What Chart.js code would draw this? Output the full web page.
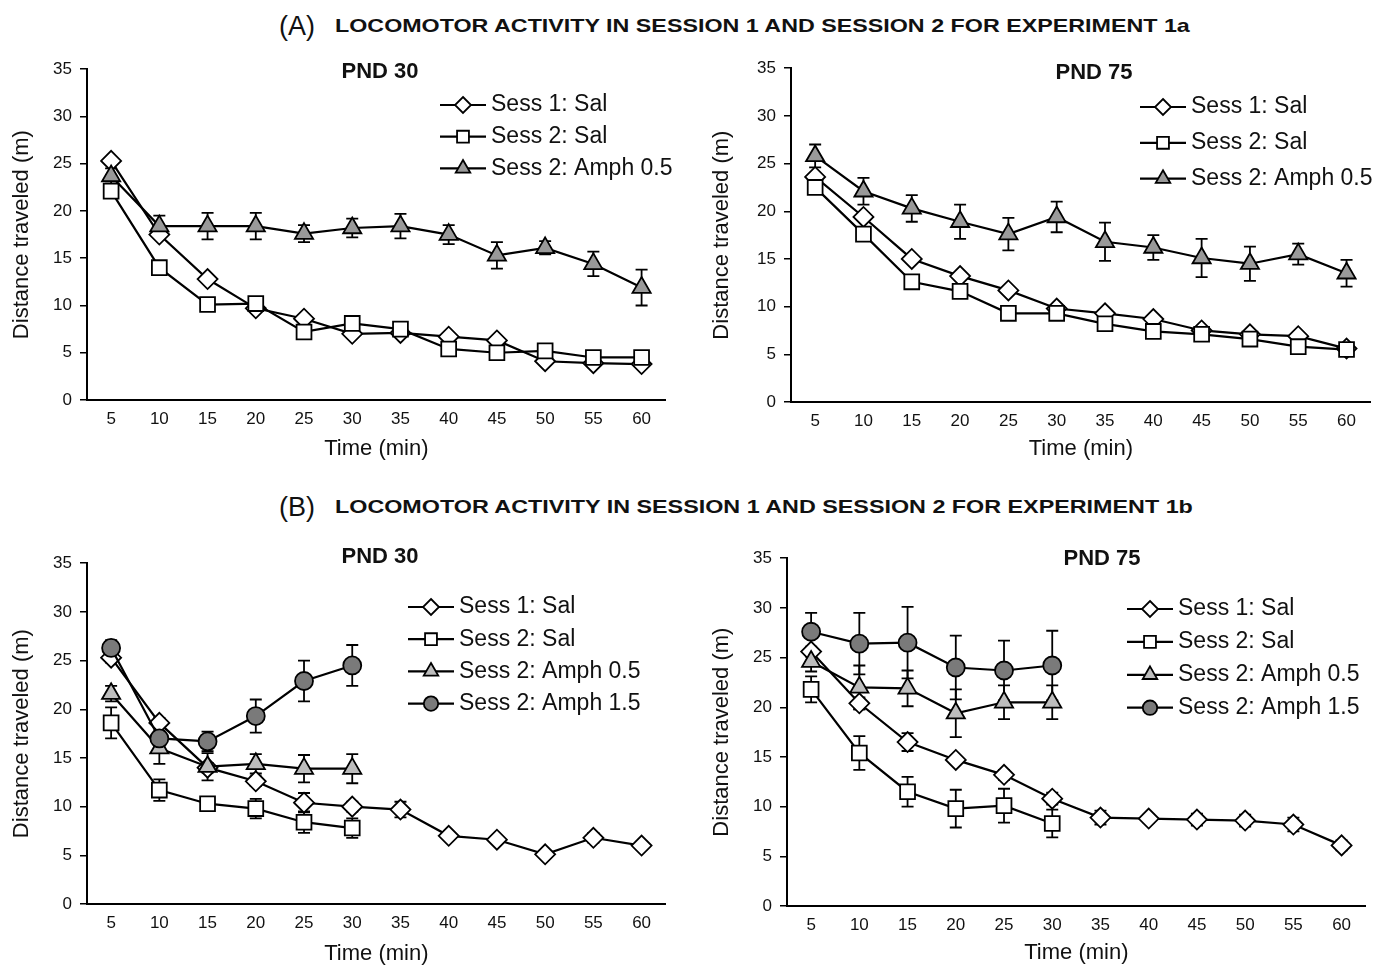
<!DOCTYPE html>
<html>
<head>
<meta charset="utf-8">
<script src="https://cdn.jsdelivr.net/npm/chart.js@4.4.1/dist/chart.umd.min.js"></script>
<style>
body { margin: 0; background: #fff; width: 1384px; height: 968px; position: relative; overflow: hidden; font-family: "Liberation Sans", Arial, sans-serif; color: #111; }
.box { position: absolute; }
.tag { position: absolute; font-size: 27px; line-height: 30px; white-space: nowrap; }
.head { position: absolute; font-size: 19px; font-weight: bold; line-height: 24px; white-space: nowrap; transform-origin: left center; }
.pnd { position: absolute; font-size: 22px; font-weight: bold; white-space: nowrap; transform: translate(-50%, -50%); }
</style>
</head>
<body>

<div class="tag" style="left:279px; top:11px;">(A)</div>
<div class="head" id="headA" style="left:335px; top:14px;">LOCOMOTOR ACTIVITY IN SESSION 1 AND SESSION 2 FOR EXPERIMENT 1a</div>
<div class="tag" style="left:279px; top:492px;">(B)</div>
<div class="head" id="headB" style="left:335px; top:495px;">LOCOMOTOR ACTIVITY IN SESSION 1 AND SESSION 2 FOR EXPERIMENT 1b</div>

<div class="box" id="boxA1"><canvas id="chartA1"></canvas></div>
<div class="box" id="boxA2"><canvas id="chartA2"></canvas></div>
<div class="box" id="boxB1"><canvas id="chartB1"></canvas></div>
<div class="box" id="boxB2"><canvas id="chartB2"></canvas></div>

<div class="pnd" style="left:380px; top:71px;">PND 30</div>
<div class="pnd" style="left:1094px; top:72px;">PND 75</div>
<div class="pnd" style="left:380px; top:556px;">PND 30</div>
<div class="pnd" style="left:1102px; top:558px;">PND 75</div>

<script>
// x categories (min)
const times = [5, 10, 15, 20, 25, 30, 35, 40, 45, 50, 55, 60]
const seriesNames = ["Sess 1: Sal", "Sess 2: Sal", "Sess 2: Amph 0.5", "Sess 2: Amph 1.5"]

// Experiment 1a, PND 30
const a30Sal1 = [25.3, 17.5, 12.8, 9.7, 8.6, 7.0, 7.1, 6.7, 6.3, 4.1, 3.9, 3.8]
const a30Sal2 = [22.1, 14.0, 10.1, 10.2, 7.2, 8.1, 7.5, 5.4, 5.0, 5.2, 4.5, 4.5]
const a30Amph = [23.7, 18.4, 18.4, 18.4, 17.6, 18.2, 18.4, 17.5, 15.3, 16.1, 14.4, 11.9]
const a30AmphErr = [0.8, 1.1, 1.4, 1.4, 0.9, 1.0, 1.3, 1.0, 1.4, 0.7, 1.3, 1.9]

// Experiment 1a, PND 75
const a75Sal1 = [23.6, 19.4, 15.0, 13.2, 11.7, 9.8, 9.3, 8.7, 7.5, 7.1, 6.9, 5.6]
const a75Sal2 = [22.5, 17.6, 12.6, 11.6, 9.3, 9.3, 8.2, 7.4, 7.1, 6.6, 5.8, 5.5]
const a75Amph = [25.8, 22.1, 20.3, 18.9, 17.6, 19.4, 16.8, 16.2, 15.1, 14.5, 15.5, 13.5]
const a75AmphErr = [1.2, 1.4, 1.4, 1.8, 1.7, 1.6, 2.0, 1.3, 2.0, 1.8, 1.1, 1.4]

// Experiment 1b, PND 30
const b30Sal1 = [25.3, 18.6, 14.0, 12.6, 10.4, 10.0, 9.7, 7.0, 6.6, 5.1, 6.8, 6.0]
const b30Sal1Err = [0.5, 0.5, 0.5, 0.5, 1.0, 0.5, 0.8, 0.3, 0.4, 0.3, 0.5, 0.4]
const b30Sal2 = [18.6, 11.7, 10.3, 9.8, 8.4, 7.8]
const b30Sal2Err = [1.6, 1.1, 0.5, 1.0, 1.1, 1.0]
const b30Amph05 = [21.6, 16.0, 14.1, 14.4, 13.9, 13.9]
const b30Amph05Err = [0.8, 1.6, 1.4, 1.0, 1.4, 1.5]
const b30Amph15 = [26.3, 17.0, 16.7, 19.3, 22.9, 24.5]
const b30Amph15Err = [0.8, 0.8, 1.0, 1.7, 2.1, 2.1]

// Experiment 1b, PND 75
const b75Sal1 = [25.6, 20.4, 16.5, 14.7, 13.2, 10.8, 8.9, 8.8, 8.7, 8.6, 8.2, 6.1]
const b75Sal1Err = [0.5, 0.6, 0.9, 0.4, 0.5, 0.6, 0.7, 0.4, 0.6, 0.6, 0.7, 0.5]
const b75Sal2 = [21.8, 15.4, 11.5, 9.8, 10.1, 8.3]
const b75Sal2Err = [1.3, 1.7, 1.5, 1.9, 1.7, 1.4]
const b75Amph05 = [24.6, 22.0, 21.9, 19.4, 20.5, 20.5]
const b75Amph05Err = [1.0, 2.2, 1.8, 2.4, 1.7, 1.7]
const b75Amph15 = [27.6, 26.4, 26.5, 24.0, 23.7, 24.2]
const b75Amph15Err = [1.9, 3.1, 3.6, 3.2, 3.0, 3.5]

const FONT = '"Liberation Sans", Arial, Helvetica, sans-serif'

// marker looks per group
const looks = {
    sal1: { pointStyle: 'rectRot', radius: 10, fill: '#ffffff', order: 3 },
    sal2: { pointStyle: 'rect', radius: 10.5, fill: '#ffffff', order: 2 },
    amphA: { pointStyle: 'triangle', radius: 10.5, fill: '#999999', order: 1 },
    amph05: { pointStyle: 'triangle', radius: 10.5, fill: '#bdbdbd', order: 1 },
    amph15: { pointStyle: 'circle', radius: 9, fill: '#7a7a7a', order: 0 }
}

function makeSet (name, data, errs, look) {
    return {
        label: name,
        data: data,
        errors: errs,
        borderColor: '#000',
        borderWidth: 2.2,
        pointStyle: look.pointStyle,
        pointRadius: look.radius,
        pointHoverRadius: look.radius,
        pointBackgroundColor: look.fill,
        pointBorderColor: '#000',
        pointBorderWidth: 1.8,
        fill: false,
        tension: 0,
        order: look.order
    }
}

// mean +/- error bars, drawn under the markers
const errorBars = {
    id: 'errorBars',
    beforeDatasetsDraw (chart) {
        const ctx = chart.ctx
        const yScale = chart.scales.y
        ctx.save()
        ctx.strokeStyle = '#000'
        ctx.lineWidth = 1.8
        chart.data.datasets.forEach((ds, i) => {
            if (!ds.errors) return
            const meta = chart.getDatasetMeta(i)
            ds.errors.forEach((e, j) => {
                if (!e) return
                const pt = meta.data[j]
                const top = yScale.getPixelForValue(ds.data[j] + e)
                const bot = yScale.getPixelForValue(ds.data[j] - e)
                ctx.beginPath()
                ctx.moveTo(pt.x, top); ctx.lineTo(pt.x, bot)
                ctx.moveTo(pt.x - 6, top); ctx.lineTo(pt.x + 6, top)
                ctx.moveTo(pt.x - 6, bot); ctx.lineTo(pt.x + 6, bot)
                ctx.stroke()
            })
        })
        ctx.restore()
    }
}

function drawMarker (ctx, style, r, x, y) {
    ctx.beginPath()
    if (style == 'circle') {
        ctx.arc(x, y, r, 0, Math.PI * 2)
    } else if (style == 'rect') {
        const s = Math.SQRT1_2 * r
        ctx.rect(x - s, y - s, 2 * s, 2 * s)
    } else if (style == 'rectRot') {
        ctx.moveTo(x, y - r); ctx.lineTo(x + r, y); ctx.lineTo(x, y + r); ctx.lineTo(x - r, y)
    } else {
        ctx.moveTo(x, y - r)
        ctx.lineTo(x + Math.sin(2 * Math.PI / 3) * r, y + r / 2)
        ctx.lineTo(x - Math.sin(2 * Math.PI / 3) * r, y + r / 2)
    }
    ctx.closePath()
    ctx.fill()
    ctx.stroke()
}

// legend sitting inside the plot, line + marker + text
const insideLegend = {
    id: 'insideLegend',
    afterDraw (chart, args, opts) {
        const ctx = chart.ctx
        ctx.save()
        ctx.font = '23px ' + FONT
        ctx.textBaseline = 'middle'
        chart.data.datasets.forEach((ds, i) => {
            const y = opts.y + i * opts.gap
            ctx.strokeStyle = '#000'
            ctx.lineWidth = 2.2
            ctx.beginPath()
            ctx.moveTo(opts.x, y); ctx.lineTo(opts.x + 46, y)
            ctx.stroke()
            ctx.fillStyle = ds.pointBackgroundColor
            ctx.lineWidth = 1.8
            drawMarker(ctx, ds.pointStyle, ds.pointRadius * 0.8, opts.x + 23, y)
            ctx.fillStyle = '#111'
            ctx.fillText(ds.label, opts.x + 51, y)
        })
        ctx.restore()
    }
}

// geo: page position of the plot area and of the axis titles
function createPanel (id, geo, datasets) {
    const padTop = 12
    const xh = geo.titleY - geo.bottom + 13
    const canvasTop = geo.top - padTop
    const w = geo.right - geo.left + 6
    const h = geo.bottom - canvasTop + xh
    const box = document.getElementById('box' + id)
    box.style.left = geo.left + 'px'
    box.style.top = canvasTop + 'px'
    const canvas = document.getElementById('chart' + id)
    canvas.width = w
    canvas.height = h
    canvas.style.width = w + 'px'
    canvas.style.height = h + 'px'

    new Chart(canvas, {
        type: 'line',
        data: { labels: times, datasets: datasets },
        options: {
            responsive: false,
            animation: false,
            devicePixelRatio: 1,
            layout: { padding: { top: padTop, right: 6, left: 0, bottom: 0 } },
            scales: {
                x: {
                    type: 'category',
                    offset: true,
                    afterFit: (axis) => { axis.height = xh },
                    grid: { display: false, drawTicks: false },
                    border: { display: true, color: '#000', width: 2 },
                    ticks: { color: '#111', font: { family: FONT, size: 17 }, padding: 9, maxRotation: 0, autoSkip: false },
                    title: { display: true, text: 'Time (min)', color: '#111', font: { family: FONT, size: 22 }, padding: { top: 0, bottom: 0 } }
                },
                y: {
                    min: 0,
                    max: 35,
                    afterFit: (axis) => { axis.width = geo.axisX - geo.left },
                    grid: { display: true, drawOnChartArea: false, drawTicks: true, tickLength: 7, color: '#000', lineWidth: 1.5 },
                    border: { display: true, color: '#000', width: 2 },
                    ticks: { stepSize: 5, color: '#111', font: { family: FONT, size: 17 }, padding: 8 },
                    title: { display: true, text: 'Distance traveled (m)', color: '#111', font: { family: FONT, size: 22 }, padding: { top: 9, bottom: 0 } }
                }
            },
            plugins: {
                legend: { display: false },
                tooltip: { enabled: false },
                insideLegend: { x: geo.legX - geo.left, y: geo.legY - canvasTop, gap: geo.legGap }
            }
        },
        plugins: [errorBars, insideLegend]
    })
}

createPanel('A1',
    { left: 0, axisX: 87, top: 63, bottom: 400, right: 672, titleY: 449, legX: 440, legY: 105, legGap: 31.7 },
    [
        makeSet(seriesNames[0], a30Sal1, null, looks.sal1),
        makeSet(seriesNames[1], a30Sal2, null, looks.sal2),
        makeSet(seriesNames[2], a30Amph, a30AmphErr, looks.amphA)
    ])

createPanel('A2',
    { left: 700, axisX: 791, top: 62, bottom: 402, right: 1377, titleY: 449, legX: 1140, legY: 107, legGap: 35.8 },
    [
        makeSet(seriesNames[0], a75Sal1, null, looks.sal1),
        makeSet(seriesNames[1], a75Sal2, null, looks.sal2),
        makeSet(seriesNames[2], a75Amph, a75AmphErr, looks.amphA)
    ])

createPanel('B1',
    { left: 0, axisX: 87, top: 557, bottom: 904, right: 672, titleY: 954, legX: 408, legY: 607, legGap: 32.2 },
    [
        makeSet(seriesNames[0], b30Sal1, b30Sal1Err, looks.sal1),
        makeSet(seriesNames[1], b30Sal2, b30Sal2Err, looks.sal2),
        makeSet(seriesNames[2], b30Amph05, b30Amph05Err, looks.amph05),
        makeSet(seriesNames[3], b30Amph15, b30Amph15Err, looks.amph15)
    ])

createPanel('B2',
    { left: 700, axisX: 787, top: 552, bottom: 906, right: 1372, titleY: 953, legX: 1127, legY: 609, legGap: 32.9 },
    [
        makeSet(seriesNames[0], b75Sal1, b75Sal1Err, looks.sal1),
        makeSet(seriesNames[1], b75Sal2, b75Sal2Err, looks.sal2),
        makeSet(seriesNames[2], b75Amph05, b75Amph05Err, looks.amph05),
        makeSet(seriesNames[3], b75Amph15, b75Amph15Err, looks.amph15)
    ])

// squeeze the bold headings to the width they have in the figure
document.querySelectorAll('.head').forEach((el) => {
    const target = el.id == 'headA' ? 855 : 858
    el.style.transform = 'scaleX(' + (target / el.offsetWidth) + ')'
})
</script>
</body>
</html>
